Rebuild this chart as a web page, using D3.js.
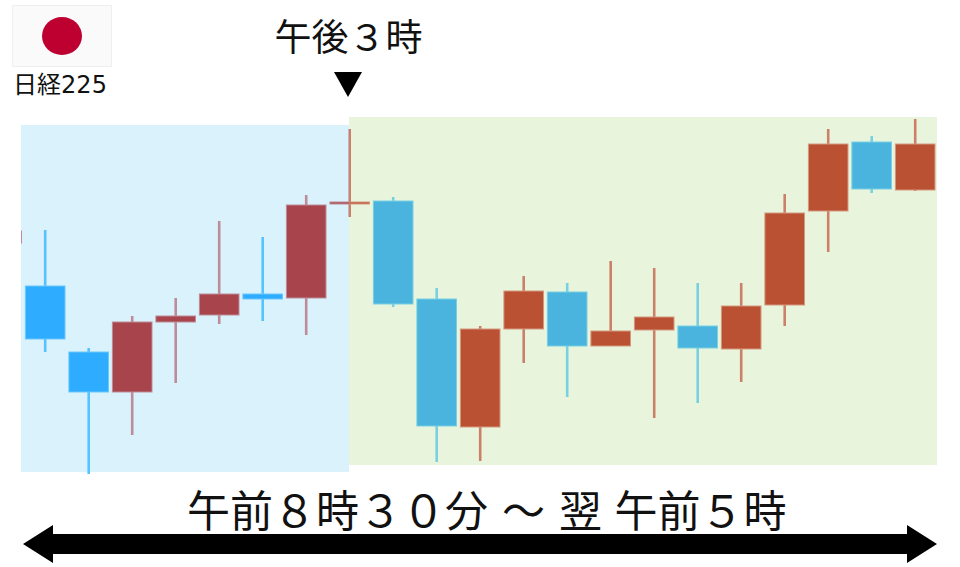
<![CDATA[<!DOCTYPE html>
<html><head><meta charset="utf-8">
<script src="https://cdn.jsdelivr.net/npm/d3@7/dist/d3.min.js"></script>
<style>html,body{margin:0;padding:0;background:#fff}svg{display:block}
text{font-family:"DejaVu Sans","Noto Sans CJK JP",sans-serif;fill:#111}</style>
</head><body>
<script>
const sessions = [-1,0,1,2,3,4,5,6,7,8,9,10,11,12,13,14,15,16,17,18,19,20];
const opens  = [237,194,128, 88,158,165,186,182,276,279,181, 53,151,188,134,150,154,131,175,269,338,290];
const closes = [249,141, 88,158,164,186,181,275,278,176, 54,151,189,134,149,163,132,174,267,336,291,336];
const highs  = [249,250,132,164,182,259,243,285,351,283,192,154,204,197,219,212,197,197,286,351,344,361];
const lows   = [237,128,  6, 45, 97,156,159,145,263,173, 18, 19,117, 83,134, 62, 77, 98,154,228,287,289];
const labelFlag = "日経225";
const labelMark = "午後３時";
const labelSpan = ["午前８時３０分","～","翌","午前５時"];

const W = 960, H = 567;
const x = d3.scaleLinear().domain([0,20]).range([45.2,915.2]);
const y = d3.scaleLinear().domain([0,480]).range([480,0]);
const svg = d3.select("body").append("svg").attr("width",W).attr("height",H);

const themes = [
  {id:"am", bg:"#D9F2FB", px:21,  pw:328, py:125, ph:347, clipX:21,  clipW:328,
   up:"#A8444B", upLine:"#BD8C98", upWick:"#BD8C98", down:"#2EACFF", downLine:"#6CC8FF", downWick:"#55C3FF"},
  {id:"pm", bg:"#E8F5DC", px:349, pw:588, py:117, ph:348, clipX:349, clipW:611,
   up:"#BB5133", upLine:"#D49A80", upWick:"#CC8069", down:"#4AB3DE", downLine:"#78D0E2", downWick:"#78D0E2"}
];

const defs = svg.append("defs");
themes.forEach(t=>{
  svg.append("rect").attr("x",t.px).attr("y",t.py).attr("width",t.pw).attr("height",t.ph).attr("fill",t.bg);
  defs.append("clipPath").attr("id","clip-"+t.id).append("rect")
    .attr("x",t.clipX).attr("y",0).attr("width",t.clipW).attr("height",H);
});

const candles = sessions.map((s,i)=>({s,o:opens[i],c:closes[i],h:highs[i],l:lows[i]}));
themes.forEach(t=>{
  const g = svg.append("g").attr("clip-path",`url(#clip-${t.id})`);
  const isUp = d=>d.c>=d.o;
  g.selectAll("line").data(candles).join("line")
    .attr("x1",d=>x(d.s)).attr("x2",d=>x(d.s))
    .attr("y1",d=>y(d.h)).attr("y2",d=>y(d.l))
    .attr("stroke",d=>isUp(d)?t.upWick:t.downWick).attr("stroke-width",2.6);
  g.selectAll("rect").data(candles).join("rect")
    .attr("x",d=>x(d.s)-19.8).attr("width",39.6)
    .attr("y",d=>y(Math.max(d.o,d.c))).attr("height",d=>Math.max(1,Math.abs(y(d.o)-y(d.c))))
    .attr("fill",d=>isUp(d)?t.up:t.down)
    .attr("stroke",d=>isUp(d)?t.upLine:t.downLine).attr("stroke-width",1);
});

// flag
svg.append("rect").attr("x",12.5).attr("y",5.5).attr("width",99).attr("height",61)
  .attr("fill","#FAFAFA").attr("stroke","#EFEFEF");
svg.append("ellipse").attr("cx",62).attr("cy",36).attr("rx",20).attr("ry",19).attr("fill","#BD0030");

svg.append("text").attr("x",60).attr("y",93).attr("text-anchor","middle")
  .attr("font-size",24).text(labelFlag);
svg.append("text").attr("x",348.5).attr("y",51).attr("text-anchor","middle")
  .attr("font-size",37).text(labelMark);
// marker triangle
svg.append("path").attr("d",d3.line()([[334,72],[362,72],[348,97]])+"Z").attr("fill","#000");

// span label
const spanG = svg.append("text").attr("y",527).attr("font-size",43);
const spanX = [187,502,559,614.5];
labelSpan.forEach((s,i)=>spanG.append("tspan").attr("x",spanX[i]).text(s));

// double arrow
const arrow = [[23,544],[53,525],[53,534],[907,534],[907,525],[937,544],[907,563],[907,554],[53,554],[53,563]];
svg.append("path").attr("d",d3.line()(arrow)+"Z").attr("fill","#000");
</script>
</body></html>]]>
